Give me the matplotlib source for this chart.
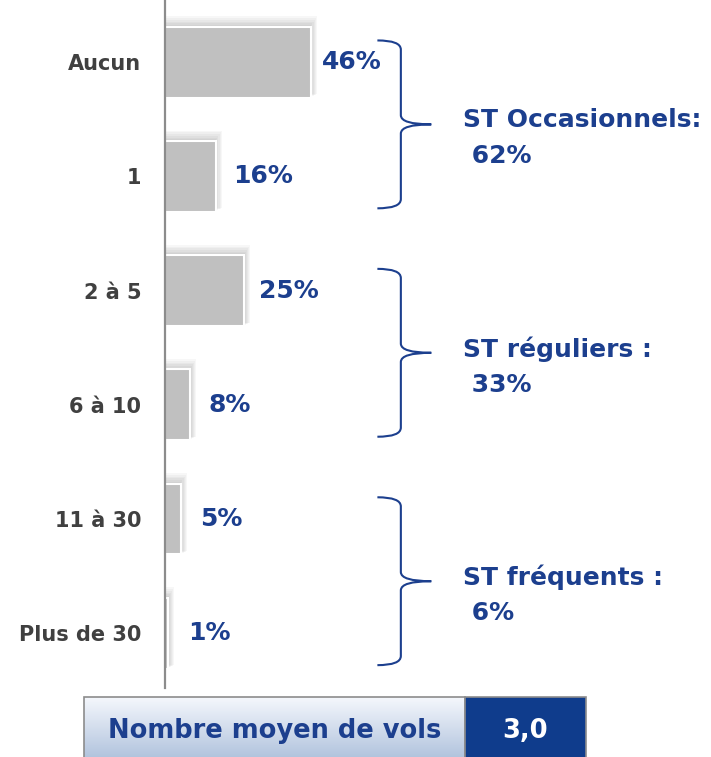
import matplotlib.pyplot as plt
import numpy as np
from matplotlib.path import Path
from matplotlib.patches import PathPatch, Rectangle

categories = ['Aucun', '1', '2 à 5', '6 à 10', '11 à 30', 'Plus de 30']
values = [46, 16, 25, 8, 5, 1]
groups = [(0, 1, 'ST Occasionnels:\n 62%'),
          (2, 3, 'ST réguliers :\n 33%'),
          (4, 5, 'ST fréquents :\n 6%')]
box_label = 'Nombre moyen de vols'
box_value = '3,0'

BLUE = '#1c3f8e'
DARK = '#0f3c8c'
plt.rcParams['font.family'] = ['DejaVu Sans']

W, H = 711, 757
fig = plt.figure(figsize=(W / 100, H / 100), dpi=100)
ax = fig.add_axes([165 / W, (H - 688) / H, (W - 165) / W, 688 / H])
px = 3.17  # pixels per percent
ax.set_xlim(0, (W - 165) / px)
ax.set_ylim(len(categories) - 0.52, -0.544)

y = np.arange(len(categories))
# soft shadow
for k in range(1, 7):
    ax.barh(y - 0.01 * k, np.array(values) + k * 0.35, height=0.62 + k * 0.01, left=-0.2,
            color='#000000', alpha=0.03, linewidth=0, zorder=1)
ax.barh(y, values, height=0.62, color='#c0c0c0', edgecolor='white', linewidth=1.5, zorder=2)

for yi, v in zip(y, values):
    ax.text(v * 0.94 + 6.3, yi, f'{v}%', color=BLUE, fontsize=18, fontweight='bold',
            va='center', ha='left')

ax.set_yticks(y)
ax.set_yticklabels(categories, fontsize=15, fontweight='bold', color='#404040')
ax.tick_params(axis='y', length=0, pad=17)
ax.set_xticks([])
for s in ['top', 'right', 'bottom']:
    ax.spines[s].set_visible(False)
ax.spines['left'].set_color('#8c8c8c')
ax.spines['left'].set_linewidth(1.6)
ax.set_facecolor('none')

# braces
x0, x1, tip = 67.0, 74.4, 84.0
r = 0.08
for i0, i1, label in groups:
    yt, yb = i0 - 0.19, i1 + 0.28
    ym = (yt + yb) / 2
    verts = [(x0, yt), (x1, yt), (x1, yt + r),
             (x1, ym - r), (x1, ym), (tip, ym),
             (x1, ym), (x1, ym + r),
             (x1, yb - r), (x1, yb), (x0, yb)]
    codes = [Path.MOVETO, Path.CURVE3, Path.CURVE3,
             Path.LINETO, Path.CURVE3, Path.CURVE3,
             Path.CURVE3, Path.CURVE3,
             Path.LINETO, Path.CURVE3, Path.CURVE3]
    ax.add_patch(PathPatch(Path(verts, codes), facecolor='none', edgecolor=BLUE,
                           linewidth=1.5, clip_on=False))
    ax.text(94, ym + 0.12, label, color=BLUE, fontsize=18, fontweight='bold',
            va='center', ha='left', linespacing=1.6, clip_on=False)

# bottom box
bx = fig.add_axes([84 / W, 0, (586 - 84) / W, 60 / H])
bx.set_xlim(0, 1)
bx.set_ylim(0, 1)
bx.axis('off')
split = (465 - 84) / (586 - 84)
grad = np.linspace(0, 1, 100)[:, None]
top_c = np.array([0.96, 0.97, 0.99])
bot_c = np.array([0.70, 0.77, 0.87])
img = top_c * (1 - grad[..., None]) + bot_c * grad[..., None]
bx.imshow(img, extent=[0, split, 0, 1], aspect='auto', origin='upper')
bx.add_patch(Rectangle((0, -0.3), split, 1.3, facecolor='none', edgecolor='#8c8c8c',
                       linewidth=1.2, clip_on=False))
bx.add_patch(Rectangle((split, -0.3), 1 - split, 1.3, facecolor=DARK, edgecolor='#8c8c8c',
                       linewidth=1.2, clip_on=False))
bx.text(split / 2, 0.43, box_label, color=BLUE, fontsize=18.5, fontweight='bold',
        ha='center', va='center')
bx.text((1 + split) / 2, 0.43, box_value, color='white', fontsize=18.5, fontweight='bold',
        ha='center', va='center')

fig.savefig('out.png', dpi=100)
